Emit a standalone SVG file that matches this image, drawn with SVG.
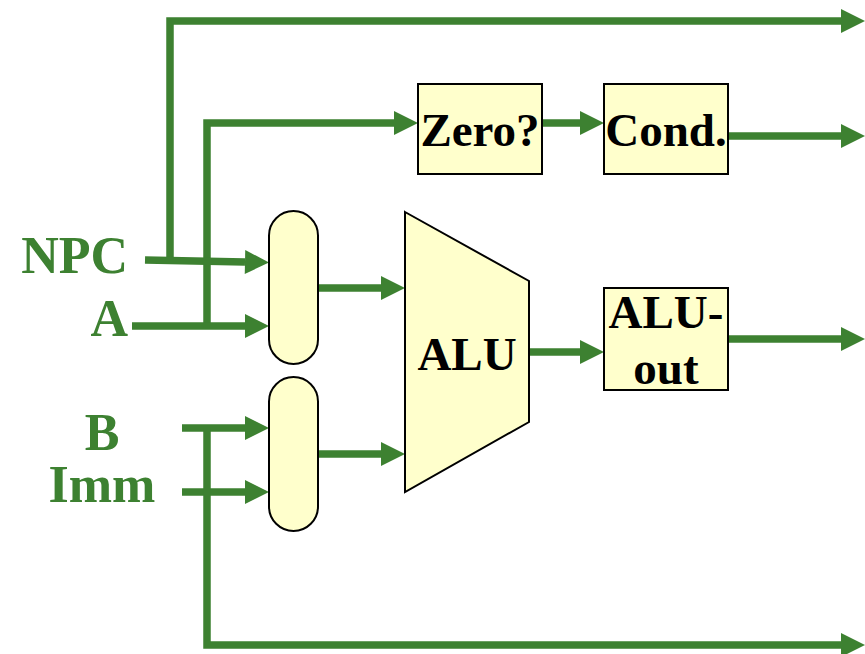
<svg xmlns="http://www.w3.org/2000/svg" width="865" height="654" viewBox="0 0 865 654">
<defs>
<marker id="ah" markerUnits="userSpaceOnUse" markerWidth="26" markerHeight="26" refX="0" refY="12" orient="auto" overflow="visible">
<path d="M0,0 L24,12 L0,24 z" fill="#3d8131"/>
</marker>
<style>
.w{fill:none;stroke:#3d8131;stroke-width:7.5;stroke-linejoin:miter}
.a{marker-end:url(#ah)}
.box{fill:#ffffcc;stroke:#000;stroke-width:2}
.t{font-family:"Liberation Serif","Times New Roman",serif;font-weight:bold;font-size:47px;fill:#000}
.g{font-family:"Liberation Serif","Times New Roman",serif;font-weight:bold;font-size:52px;fill:#3d8131}
</style>
</defs>
<g id="connectors">
<polyline class="w a" points="170,258 170,21 841,21"/>
<polyline class="w a" points="207,325 207,123 394,123"/>
<polyline class="w a" points="145,260 245,262"/>
<polyline class="w a" points="132,326 245,326"/>
<polyline class="w a" points="318,288 381,288"/>
<polyline class="w a" points="318,454 381,454"/>
<polyline class="w a" points="182,428 245,428"/>
<polyline class="w a" points="182,492 245,492"/>
<polyline class="w a" points="207,428 207,645 841,645"/>
<polyline class="w a" points="542,123 580,123"/>
<polyline class="w a" points="728,136 841,136"/>
<polyline class="w a" points="529,352 580,352"/>
<polyline class="w a" points="728,339 841,339"/>
</g>
<g id="labels">
<text class="g" x="128" y="273" text-anchor="end">NPC</text>
<text class="g" x="128" y="336" text-anchor="end">A</text>
<text class="g" x="102" y="450" text-anchor="middle">B</text>
<text class="g" x="102" y="502" text-anchor="middle">Imm</text>
</g>
<g id="mux-top">
<rect class="box" x="269" y="211" width="49" height="153" rx="24.5" ry="24.5"/>
</g>
<g id="mux-bottom">
<rect class="box" x="269" y="377" width="49" height="154" rx="24.5" ry="24.5"/>
</g>
<g id="alu">
<polygon class="box" points="405,212 529,281 529,422 405,492"/>
<text class="t" x="467" y="370" text-anchor="middle">ALU</text>
</g>
<g id="zero">
<rect class="box" x="418" y="84" width="124" height="90"/>
<text class="t" x="480" y="146" text-anchor="middle">Zero?</text>
</g>
<g id="cond">
<rect class="box" x="604" y="84" width="124" height="90"/>
<text class="t" x="666" y="146" text-anchor="middle">Cond.</text>
</g>
<g id="aluout">
<rect class="box" x="604" y="288" width="124" height="102"/>
<text class="t" x="666" y="328" text-anchor="middle">ALU-</text>
<text class="t" x="666" y="384" text-anchor="middle">out</text>
</g>
</svg>
